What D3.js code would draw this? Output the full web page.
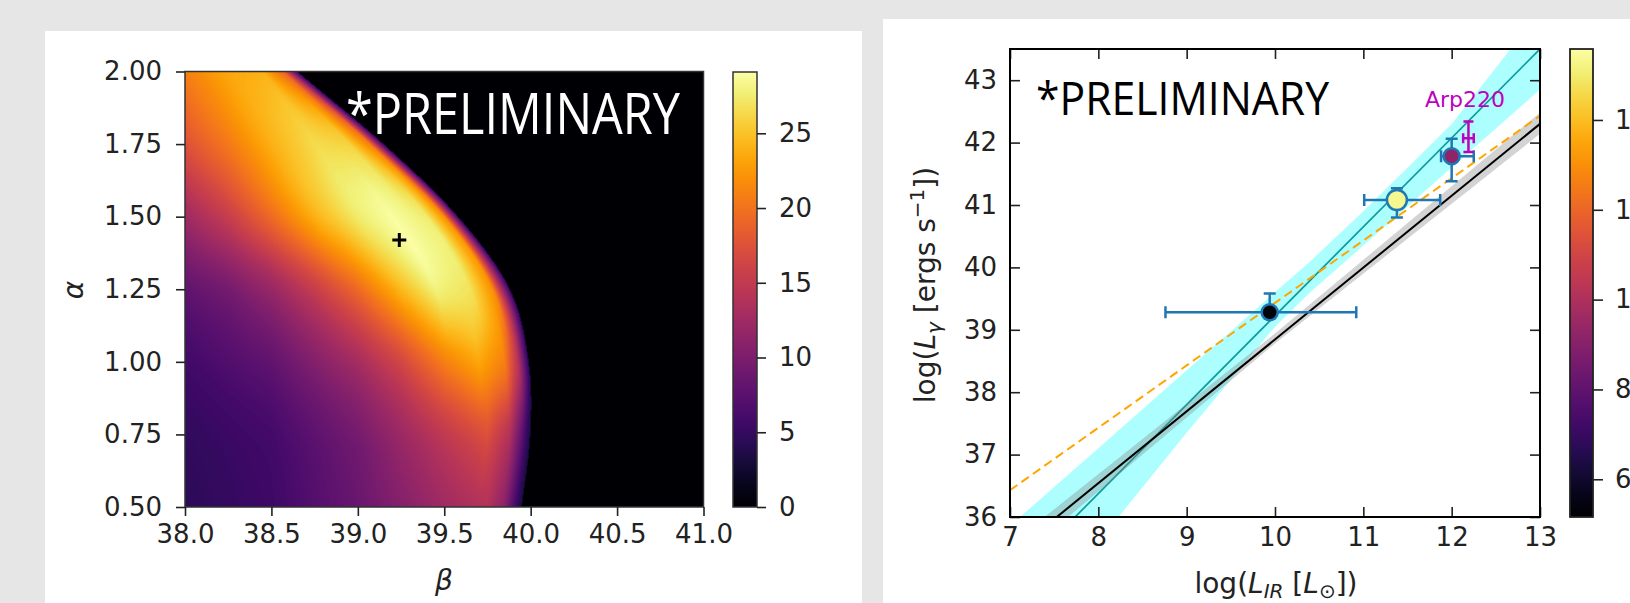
<!DOCTYPE html>
<html>
<head>
<meta charset="utf-8">
<script src="https://cdn.jsdelivr.net/npm/d3@7"></script>
<style>
  html, body { margin: 0; padding: 0; background: #e6e6e6; }
  svg { display: block; }
  text { font-family: "DejaVu Sans", sans-serif; }
</style>
</head>
<body>
<div id="main"></div>
<script>
// ---- left panel: likelihood map over (beta, alpha) ----
var betaTicks = [38.0, 38.5, 39.0, 39.5, 40.0, 40.5, 41.0];
var alphaTicks = [0.50, 0.75, 1.00, 1.25, 1.50, 1.75, 2.00];
var mapBarTicks = [0, 5, 10, 15, 20, 25];
var mapMax = 29.1;

// each row: beta positions and map values read along that alpha, last beta = edge of the region
var mapAlphaRows = [2.00, 1.75, 1.50, 1.25, 1.00, 0.75, 0.50];
var mapRowBetas = [
  [38.0, 38.25, 38.45, 38.57, 38.65],
  [38.0, 38.25, 38.5, 38.75, 38.95, 39.07, 39.15],
  [38.0, 38.25, 38.5, 38.75, 39.0, 39.2, 39.4, 39.5, 39.58],
  [38.0, 38.25, 38.5, 38.75, 39.0, 39.25, 39.45, 39.65, 39.78, 39.88],
  [38.0, 38.5, 39.0, 39.25, 39.5, 39.7, 39.85, 39.93, 39.99],
  [38.0, 38.5, 39.0, 39.5, 39.75, 39.88, 39.95, 40.0],
  [38.0, 38.5, 39.0, 39.5, 39.75, 39.85, 39.9, 39.95]
];
var mapRowValues = [
  [21, 23.5, 24, 19, 5],
  [17.5, 20.5, 24, 26.5, 26, 21, 5],
  [12.5, 15.5, 19.5, 24, 27.5, 29, 27.5, 22, 5],
  [8, 9.5, 12, 15.5, 19.5, 24.5, 28, 27, 22, 5],
  [5.8, 8, 13, 16.5, 21, 23.5, 21, 14, 4],
  [4.7, 6, 9.5, 15, 17.5, 14, 8, 3],
  [4.3, 5.5, 8.5, 12.5, 14, 11, 7, 3]
];
var bestBeta = 39.24, bestAlpha = 1.42;

// ---- right panel: L_gamma vs L_IR ----
var lirTicks = [7, 8, 9, 10, 11, 12, 13];
var lgTicks = [36, 37, 38, 39, 40, 41, 42, 43];
var pointBarTicks = [6, 8, 10, 12, 14];

var pointLir   = [9.94, 11.38, 12.00];
var pointLg    = [39.28, 41.08, 41.78];
var pointLirLo = [8.76, 11.01, 11.88];
var pointLirHi = [10.92, 11.87, 12.25];
var pointLgLo  = [39.18, 40.80, 41.38];
var pointLgHi  = [39.58, 41.27, 42.06];
var pointColorVal = [5.3, 15.3, 9.2];
var pointRadius = [8, 10, 8];

var arpLir = 12.19, arpLg = 42.07;
var arpLirLo = 12.13, arpLirHi = 12.25, arpLgLo = 41.85, arpLgHi = 42.34;

var fitX = [7, 13];
var tealFitY = [34.95, 43.5];
var blackFitY = [35.39, 42.30];
var orangeFitY = [36.43, 42.43];

var cyanBandX  = [7, 8, 9, 10, 10.4, 11, 12, 13];
var cyanBandLo = [33.9, 35.6, 37.35, 39.05, 39.6, 40.35, 41.6, 42.85];
var cyanBandHi = [35.86, 37.1, 38.35, 39.6, 40.1, 40.9, 42.3, 44.1];

var grayBandX  = [7, 10, 13];
var grayBandLo = [35.22, 38.78, 42.14];
var grayBandHi = [35.56, 38.94, 42.48];

var W = 1630, H = 603;

var svg = d3.select("#main").append("svg")
    .attr("width", W)
    .attr("height", H);

// white cards
svg.append("rect").attr("x", 45).attr("y", 31).attr("width", 817).attr("height", H - 31).attr("fill", "#fff");
svg.append("rect").attr("x", 883).attr("y", 19).attr("width", W - 883).attr("height", H - 19).attr("fill", "#fff");

var styleAxis = function(g, size) {
  g.select(".domain").remove();
  g.selectAll("line").attr("stroke", "#222").attr("stroke-width", 1.6);
  g.selectAll("text").attr("fill", "#222").style("font-size", size + "px")
    .style("font-family", "'DejaVu Sans', sans-serif");
};

// ================= left panel =================
var xL = d3.scaleLinear().domain([38, 41]).range([185, 703.5]);
var yL = d3.scaleLinear().domain([0.5, 2.0]).range([507, 71.5]);
var zL = d3.scaleLinear().domain([0, mapMax]).range([0, 255]).clamp(true);

var lut = d3.range(256).map(function(i) { return d3.rgb(d3.interpolateInferno(i / 255)); });

var nRows = mapAlphaRows.length;
var rowCut = mapRowBetas.map(function(bs) { return bs[bs.length - 1]; });
var rowU = mapRowBetas.map(function(bs, r) {
  return bs.map(function(b) { return (b - 38) / (rowCut[r] - 38); });
});

var rowAt = function(r, u) {
  var us = rowU[r], vs = mapRowValues[r];
  if (u <= us[0]) return vs[0];
  for (var i = 1; i < us.length; i++) {
    if (u <= us[i]) {
      var t = (u - us[i - 1]) / (us[i] - us[i - 1]);
      return vs[i - 1] + (vs[i] - vs[i - 1]) * t;
    }
  }
  return 0;
};
// rows beyond the ends are continued straight from the last two
var rowValue = function(r, u) {
  if (r < 0) return 2 * rowAt(0, u) - rowAt(1, u);
  if (r > nRows - 1) return 2 * rowAt(nRows - 1, u) - rowAt(nRows - 2, u);
  return rowAt(r, u);
};
var cutOf = function(r) {
  if (r < 0) return 2 * rowCut[0] - rowCut[1];
  if (r > nRows - 1) return 2 * rowCut[nRows - 1] - rowCut[nRows - 2];
  return rowCut[r];
};

// smooth blend between neighbouring rows (catmull-rom weights)
var crWeights = function(t) {
  var t2 = t * t, t3 = t2 * t;
  return [(-t3 + 2 * t2 - t) / 2, (3 * t3 - 5 * t2 + 2) / 2, (-3 * t3 + 4 * t2 + t) / 2, (t3 - t2) / 2];
};

var mx0 = xL.range()[0], my0 = yL.range()[1];
var cw = Math.round(xL.range()[1] - mx0), ch = Math.round(yL.range()[0] - my0);
var canvas = document.createElement("canvas");
canvas.width = cw; canvas.height = ch;
var ctx = canvas.getContext("2d");
var img = ctx.createImageData(cw, ch);

for (var py = 0; py < ch; py++) {
  var a = yL.invert(my0 + py + 0.5);
  var k = 0;
  while (k < nRows - 2 && a < mapAlphaRows[k + 1]) k++;
  var t = (mapAlphaRows[k] - a) / (mapAlphaRows[k] - mapAlphaRows[k + 1]);
  t = Math.max(0, Math.min(1, t));
  var w = crWeights(t);
  var rows = [k - 1, k, k + 1, k + 2];
  var cut = 0;
  for (var j = 0; j < 4; j++) cut += w[j] * cutOf(rows[j]);
  for (var px = 0; px < cw; px++) {
    var b = xL.invert(mx0 + px + 0.5);
    var v = 0;
    if (b <= cut) {
      var u = (b - 38) / (cut - 38);
      for (var j2 = 0; j2 < 4; j2++) v += w[j2] * rowValue(rows[j2], u);
      v = Math.max(v, 0);
    }
    var c = lut[Math.round(zL(v))];
    var o = (py * cw + px) * 4;
    img.data[o] = c.r; img.data[o + 1] = c.g; img.data[o + 2] = c.b; img.data[o + 3] = 255;
  }
}
ctx.putImageData(img, 0, 0);

svg.append("image")
    .attr("x", mx0).attr("y", my0)
    .attr("width", xL.range()[1] - mx0).attr("height", yL.range()[0] - my0)
    .attr("preserveAspectRatio", "none")
    .attr("href", canvas.toDataURL());

svg.append("rect")
    .attr("x", mx0).attr("y", my0)
    .attr("width", xL.range()[1] - mx0).attr("height", yL.range()[0] - my0)
    .attr("fill", "none").attr("stroke", "#333").attr("stroke-width", 1.5);

// best fit cross
svg.append("path")
    .attr("d", "M" + (xL(bestBeta) - 7) + "," + yL(bestAlpha) + "h14M" + xL(bestBeta) + "," + (yL(bestAlpha) - 7) + "v14")
    .attr("stroke", "#000").attr("stroke-width", 3);

svg.append("text")
    .attr("x", 346).attr("y", 134)
    .attr("textLength", 334).attr("lengthAdjust", "spacingAndGlyphs")
    .style("font-family", "'Open Sans', sans-serif").style("font-size", "57px")
    .attr("fill", "#fff")
    .text("*PRELIMINARY");

svg.append("g")
    .attr("transform", "translate(0," + yL.range()[0] + ")")
    .call(d3.axisBottom(xL).tickValues(betaTicks).tickFormat(d3.format(".1f")).tickSize(9).tickPadding(9))
    .call(styleAxis, 26);

svg.append("g")
    .attr("transform", "translate(" + mx0 + ",0)")
    .call(d3.axisLeft(yL).tickValues(alphaTicks).tickFormat(d3.format(".2f")).tickSize(9).tickPadding(14))
    .call(styleAxis, 26);

svg.append("text")
    .attr("x", 444).attr("y", 590)
    .attr("text-anchor", "middle")
    .style("font-size", "28px").style("font-style", "italic")
    .attr("fill", "#222")
    .text("β");

svg.append("text")
    .attr("transform", "translate(83,290) rotate(-90)")
    .attr("text-anchor", "middle")
    .style("font-size", "28px").style("font-style", "italic")
    .attr("fill", "#222")
    .text("α");

// left colour bar
var defs = svg.append("defs");
var infernoGrad = defs.append("linearGradient")
    .attr("id", "inferno").attr("x1", 0).attr("y1", 1).attr("x2", 0).attr("y2", 0);
infernoGrad.selectAll("stop")
    .data(d3.range(0, 1.0001, 0.05))
    .enter().append("stop")
      .attr("offset", function(d) { return d; })
      .attr("stop-color", function(d) { return d3.interpolateInferno(d); });

var cL = d3.scaleLinear().domain([0, mapMax]).range([507, 72]);
svg.append("rect")
    .attr("x", 733).attr("y", cL.range()[1])
    .attr("width", 24).attr("height", cL.range()[0] - cL.range()[1])
    .attr("fill", "url(#inferno)").attr("stroke", "#333").attr("stroke-width", 1.5);
svg.append("g")
    .attr("transform", "translate(757,0)")
    .call(d3.axisRight(cL).tickValues(mapBarTicks).tickSize(9).tickPadding(13))
    .call(styleAxis, 26);

// ================= right panel =================
var xR = d3.scaleLinear().domain([7, 13]).range([1010, 1540]);
var yR = d3.scaleLinear().domain([36, 43.5]).range([517, 49]);
var cR = d3.scaleLinear().domain([5.16, 15.58]).range([517, 49]);
var pointColor = d3.scaleSequential(d3.interpolateInferno).domain(cR.domain());

defs.append("clipPath").attr("id", "plotclip")
  .append("rect")
    .attr("x", xR.range()[0]).attr("y", yR.range()[1])
    .attr("width", xR.range()[1] - xR.range()[0]).attr("height", yR.range()[0] - yR.range()[1]);

var plot = svg.append("g").attr("clip-path", "url(#plotclip)");

var band = d3.area()
    .x(function(d) { return xR(d.x); })
    .y0(function(d) { return yR(d.lo); })
    .y1(function(d) { return yR(d.hi); });
var line = d3.line()
    .x(function(d) { return xR(d[0]); })
    .y(function(d) { return yR(d[1]); });

plot.append("path")
    .datum(cyanBandX.map(function(x, i) { return {x: x, lo: cyanBandLo[i], hi: cyanBandHi[i]}; }))
    .attr("d", band)
    .attr("fill", "#00ffff").attr("fill-opacity", 0.32);

plot.append("path")
    .datum(d3.zip(fitX, tealFitY))
    .attr("d", line)
    .attr("fill", "none").attr("stroke", "#0a9c9c").attr("stroke-width", 1.7);

plot.append("path")
    .datum(grayBandX.map(function(x, i) { return {x: x, lo: grayBandLo[i], hi: grayBandHi[i]}; }))
    .attr("d", band)
    .attr("fill", "#808080").attr("fill-opacity", 0.35);

plot.append("path")
    .datum(d3.zip(fitX, blackFitY))
    .attr("d", line)
    .attr("fill", "none").attr("stroke", "#000").attr("stroke-width", 2);

plot.append("path")
    .datum(d3.zip(fitX, orangeFitY))
    .attr("d", line)
    .attr("fill", "none").attr("stroke", "#ffa500").attr("stroke-width", 2)
    .attr("stroke-dasharray", "9,5");

// error bars
var errColor = "#1f77b4";
var cap = 6;
var errs = plot.selectAll(".err")
    .data(pointLir.map(function(d, i) { return i; }))
    .enter().append("g").attr("class", "err")
    .attr("stroke", errColor).attr("stroke-width", 2.5);

errs.append("path")
    .attr("d", function(i) {
      var x0 = xR(pointLirLo[i]), x1 = xR(pointLirHi[i]), yc = yR(pointLg[i]);
      var y0 = yR(pointLgLo[i]), y1 = yR(pointLgHi[i]), xc = xR(pointLir[i]);
      return "M" + x0 + "," + yc + "H" + x1 +
             "M" + x0 + "," + (yc - cap) + "V" + (yc + cap) +
             "M" + x1 + "," + (yc - cap) + "V" + (yc + cap) +
             "M" + xc + "," + y0 + "V" + y1 +
             "M" + (xc - cap) + "," + y0 + "H" + (xc + cap) +
             "M" + (xc - cap) + "," + y1 + "H" + (xc + cap);
    })
    .attr("fill", "none");

plot.selectAll(".pt")
    .data(pointLir.map(function(d, i) { return i; }))
    .enter().append("circle").attr("class", "pt")
      .attr("cx", function(i) { return xR(pointLir[i]); })
      .attr("cy", function(i) { return yR(pointLg[i]); })
      .attr("r", function(i) { return pointRadius[i]; })
      .attr("fill", function(i) { return pointColor(pointColorVal[i]); })
      .attr("stroke", errColor).attr("stroke-width", 2.5);

// Arp220
var arpColor = "#bf00bf";
plot.append("path")
    .attr("d",
      "M" + xR(arpLir) + "," + yR(arpLgLo) + "V" + yR(arpLgHi) +
      "M" + (xR(arpLir) - 5) + "," + yR(arpLgLo) + "h10" +
      "M" + (xR(arpLir) - 5) + "," + yR(arpLgHi) + "h10" +
      "M" + xR(arpLirLo) + "," + yR(arpLg) + "H" + xR(arpLirHi) +
      "M" + xR(arpLirLo) + "," + (yR(arpLg) - 5) + "v10" +
      "M" + xR(arpLirHi) + "," + (yR(arpLg) - 5) + "v10")
    .attr("fill", "none").attr("stroke", arpColor).attr("stroke-width", 2.5);

svg.append("text")
    .attr("x", 1425).attr("y", 107)
    .style("font-size", "22px")
    .attr("fill", arpColor)
    .text("Arp220");

svg.append("text")
    .attr("x", 1036).attr("y", 115)
    .attr("textLength", 293).attr("lengthAdjust", "spacingAndGlyphs")
    .style("font-family", "'Open Sans', sans-serif").style("font-size", "45px")
    .attr("fill", "#000")
    .text("*PRELIMINARY");

// axes, ticks pointing in
svg.append("g")
    .attr("transform", "translate(0," + yR.range()[0] + ")")
    .call(d3.axisBottom(xR).tickValues(lirTicks).tickFormat(d3.format("d")).tickSize(-10).tickPadding(11))
    .call(styleAxis, 26);
svg.append("g")
    .attr("transform", "translate(" + xR.range()[0] + ",0)")
    .call(d3.axisLeft(yR).tickValues(lgTicks).tickFormat(d3.format("d")).tickSize(-10).tickPadding(13))
    .call(styleAxis, 26);
svg.append("g")
    .attr("transform", "translate(0," + yR.range()[1] + ")")
    .call(d3.axisTop(xR).tickValues(lirTicks).tickFormat("").tickSize(-10))
    .call(styleAxis, 26);
svg.append("g")
    .attr("transform", "translate(" + xR.range()[1] + ",0)")
    .call(d3.axisRight(yR).tickValues(lgTicks).tickFormat("").tickSize(-10))
    .call(styleAxis, 26);

svg.append("rect")
    .attr("x", xR.range()[0]).attr("y", yR.range()[1])
    .attr("width", xR.range()[1] - xR.range()[0]).attr("height", yR.range()[0] - yR.range()[1])
    .attr("fill", "none").attr("stroke", "#000").attr("stroke-width", 2);

// axis labels with sub/superscripts
var ylab = svg.append("text")
    .attr("transform", "translate(935,285) rotate(-90)")
    .attr("text-anchor", "middle")
    .style("font-size", "28px")
    .attr("fill", "#222");
ylab.append("tspan").text("log(");
ylab.append("tspan").style("font-style", "italic").text("L");
ylab.append("tspan").style("font-style", "italic").style("font-size", "20px").attr("dy", 6).text("γ");
ylab.append("tspan").attr("dy", -6).text(" [ergs s");
ylab.append("tspan").style("font-size", "20px").attr("dy", -11).text("−1");
ylab.append("tspan").attr("dy", 11).text("])");

var xlab = svg.append("text")
    .attr("x", 1276).attr("y", 593)
    .attr("text-anchor", "middle")
    .style("font-size", "28px")
    .attr("fill", "#222");
xlab.append("tspan").text("log(");
xlab.append("tspan").style("font-style", "italic").text("L");
xlab.append("tspan").style("font-style", "italic").style("font-size", "20px").attr("dy", 5).text("IR");
xlab.append("tspan").attr("dy", -5).text(" [");
xlab.append("tspan").style("font-style", "italic").text("L");
xlab.append("tspan").style("font-size", "20px").attr("dy", 5).text("⊙");
xlab.append("tspan").attr("dy", -5).text("])");

// right colour bar
svg.append("rect")
    .attr("x", 1570).attr("y", cR.range()[1])
    .attr("width", 23).attr("height", cR.range()[0] - cR.range()[1])
    .attr("fill", "url(#inferno)").attr("stroke", "#222").attr("stroke-width", 1.8);
svg.append("g")
    .attr("transform", "translate(1593,0)")
    .call(d3.axisRight(cR).tickValues(pointBarTicks).tickSize(10).tickPadding(12))
    .call(styleAxis, 26);
</script>
</body>
</html>
